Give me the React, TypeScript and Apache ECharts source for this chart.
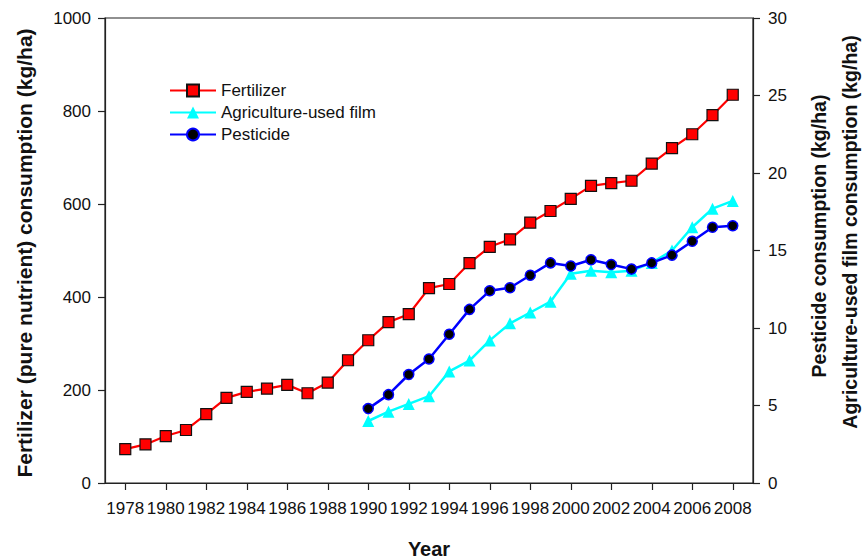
import React, { useEffect, useRef } from "react";
import * as echarts from "echarts";

const fertYears = [1978, 1979, 1980, 1981, 1982, 1983, 1984, 1985, 1986, 1987, 1988, 1989, 1990, 1991, 1992, 1993, 1994, 1995, 1996, 1997, 1998, 1999, 2000, 2001, 2002, 2003, 2004, 2005, 2006, 2007, 2008];
const fertilizer = [73, 83, 101, 114, 148, 183, 196, 203, 211, 193, 216, 264, 307, 346, 363, 419, 428, 473, 508, 524, 560, 585, 611, 639, 645, 650, 687, 720, 750, 791, 835];

const otherYears = [1990, 1991, 1992, 1993, 1994, 1995, 1996, 1997, 1998, 1999, 2000, 2001, 2002, 2003, 2004, 2005, 2006, 2007, 2008];
const film = [4.0, 4.6, 5.1, 5.6, 7.2, 7.9, 9.2, 10.3, 11.0, 11.7, 13.5, 13.7, 13.6, 13.7, 14.2, 15.0, 16.5, 17.7, 18.2];
const pesticide = [4.8, 5.7, 7.0, 8.0, 9.6, 11.2, 12.4, 12.6, 13.4, 14.2, 14.0, 14.4, 14.1, 13.8, 14.2, 14.7, 15.6, 16.5, 16.6];

const xTickLabels = [1978, 1980, 1982, 1984, 1986, 1988, 1990, 1992, 1994, 1996, 1998, 2000, 2002, 2004, 2006, 2008];

const FONT = "'Liberation Sans', Arial, Helvetica, sans-serif";

export default function App() {
  const ref = useRef<HTMLDivElement>(null);
  useEffect(() => {
    if (!ref.current) return;
    const chart = echarts.init(ref.current, undefined, { renderer: "svg" });
    const tick = { show: true, inside: false, length: 7, lineStyle: { color: "#222", width: 1.2 } };
    const axisLine = { show: true, lineStyle: { color: "#222", width: 1.2 } };
    const fmt = (v: number) => String(v);
    chart.setOption({
      animation: false,
      backgroundColor: "#fff",
      textStyle: { fontFamily: FONT },
      grid: { left: 105, right: 113, top: 18, bottom: 77, show: true, borderColor: "#222", borderWidth: 1.2, backgroundColor: "transparent" },
      legend: {
        orient: "vertical",
        left: 164,
        top: 77,
        itemWidth: 46,
        itemHeight: 15,
        itemGap: 5,
        data: ["Fertilizer", "Agriculture-used film", "Pesticide"],
        textStyle: { fontSize: 17, color: "#111", fontFamily: FONT },
      },
      xAxis: {
        type: "value",
        min: 1977,
        max: 2009,
        axisLine,
        splitLine: { show: false },
        axisTick: { ...tick, customValues: xTickLabels },
        axisLabel: {
          customValues: xTickLabels,
          formatter: fmt,
          hideOverlap: false,
          showMinLabel: true,
          showMaxLabel: true,
          fontSize: 17,
          color: "#111",
          margin: 17,
          fontFamily: FONT,
        },
      },
      yAxis: [
        {
          type: "value",
          min: 0,
          max: 1000,
          interval: 200,
          position: "left",
          axisLine,
          axisTick: tick,
          splitLine: { show: false },
          axisLabel: { formatter: fmt, fontSize: 17, color: "#111", margin: 14, fontFamily: FONT },
        },
        {
          type: "value",
          min: 0,
          max: 30,
          interval: 5,
          position: "right",
          axisLine,
          axisTick: tick,
          splitLine: { show: false },
          axisLabel: { formatter: fmt, fontSize: 17, color: "#111", margin: 15, fontFamily: FONT },
        },
      ],
      series: [
        {
          name: "Fertilizer",
          type: "line",
          yAxisIndex: 0,
          data: fertYears.map((y, i) => [y, fertilizer[i]]),
          symbol: "rect",
          symbolSize: 11,
          lineStyle: { color: "#ff0000", width: 2.2 },
          itemStyle: { color: "#ff0000", borderColor: "#111", borderWidth: 1.2 },
          z: 3,
        },
        {
          name: "Agriculture-used film",
          type: "line",
          yAxisIndex: 1,
          data: otherYears.map((y, i) => [y, film[i]]),
          symbol: "triangle",
          symbolSize: 12,
          lineStyle: { color: "#00ffff", width: 2.5 },
          itemStyle: { color: "#00ffff", borderWidth: 0 },
          z: 2,
        },
        {
          name: "Pesticide",
          type: "line",
          yAxisIndex: 1,
          data: otherYears.map((y, i) => [y, pesticide[i]]),
          symbol: "circle",
          symbolSize: 10,
          lineStyle: { color: "#0000ff", width: 2.5 },
          itemStyle: { color: "#000", borderColor: "#0000ff", borderWidth: 1.5 },
          z: 3,
        },
      ],
      graphic: [
        {
          type: "text",
          x: 24,
          y: 253,
          rotation: Math.PI / 2,
          style: { text: "Fertilizer (pure nutrient) consumption (kg/ha)", font: `bold 21px ${FONT}`, fill: "#111", textAlign: "center", textVerticalAlign: "middle" },
        },
        {
          type: "text",
          x: 819,
          y: 236,
          rotation: Math.PI / 2,
          style: { text: "Pesticide consumption (kg/ha)", font: `bold 19.5px ${FONT}`, fill: "#111", textAlign: "center", textVerticalAlign: "middle" },
        },
        {
          type: "text",
          x: 850,
          y: 232,
          rotation: Math.PI / 2,
          style: { text: "Agriculture-used film consumption (kg/ha)", font: `bold 19.5px ${FONT}`, fill: "#111", textAlign: "center", textVerticalAlign: "middle" },
        },
        {
          type: "text",
          x: 429,
          y: 549,
          style: { text: "Year", font: `bold 20px ${FONT}`, fill: "#111", textAlign: "center", textVerticalAlign: "middle" },
        },
      ],
    });
    return () => chart.dispose();
  }, []);
  return <div ref={ref} style={{ position: "fixed", left: 0, top: 0, width: 866, height: 560 }} />;
}
